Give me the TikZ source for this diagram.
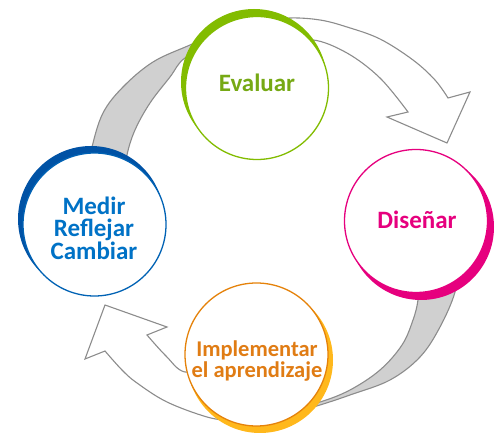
\documentclass[tikz,border=0pt]{standalone}
\usepackage{fontspec}
\setmainfont{Carlito}
\definecolor{cgreen}{HTML}{82BC00}
\definecolor{tgreen}{HTML}{76A914}
\definecolor{cmag}{HTML}{E6007E}
\definecolor{cblueD}{HTML}{0052A5}
\definecolor{cblue}{HTML}{0062B4}
\definecolor{tblue}{HTML}{0072C6}
\definecolor{corange}{HTML}{E5820A}
\definecolor{cyellow}{HTML}{FFB81C}
\definecolor{torange}{HTML}{E07C14}
\definecolor{bandgray}{HTML}{D0D0D0}
\definecolor{edgegray}{HTML}{8C8C8C}
\tikzset{
  band/.style={fill=bandgray, draw=edgegray, line width=1.1pt, line join=round},
  blockarrow/.style={fill=white, draw=edgegray, line width=1.1pt, line join=miter},
  ring/.style={circle, fill=white, line width=1.3pt, minimum size=143pt, inner sep=0pt},
  bigtxt/.style={font=\fontsize{25}{22.5}\selectfont\bfseries, align=center, inner sep=0pt},
  smalltxt/.style={font=\fontsize{22.5}{21}\selectfont\bfseries, align=center, inner sep=0pt}
}
\begin{document}
\begin{tikzpicture}[x=1pt,y=-1pt]
\useasboundingbox (0,0) rectangle (501,435);
% upper arrow: gray back part
\path[band] plot[smooth, tension=0.6] coordinates {(88,172) (92,147) (103,113) (123,87) (153,62) (190,45) (225,30)}
  -- plot[smooth, tension=0.6] coordinates {(215,46) (185,58) (170,77) (150,103) (135,130) (127,155) (125,178)} -- cycle;
% upper arrow: white front part with head
\path[blockarrow] plot[smooth, tension=0.6] coordinates {(265,22) (290,18) (320,20) (347,27) (380,39) (413,60) (435,80) (448,98)}
  -- (470,92) -- (447,143) -- (387,117) -- (408,112)
  -- plot[smooth, tension=0.6] coordinates {(408,112) (380,78) (347,53) (313,40) (290,48)} -- cycle;
% lower arrow: gray back part
\path[band] plot[smooth, tension=0.6] coordinates {(457,265) (455,292) (440,327) (420,357) (390,380) (350,395) (320,405) (295,412)}
  -- plot[smooth, tension=0.6] coordinates {(292,408) (320,402) (350,390) (380,370) (402,345) (413,320) (418,300) (419,278)} -- cycle;
% lower arrow: white front part with head
\path[blockarrow] plot[smooth, tension=0.6] coordinates {(215,366) (185,372) (166,356) (147,335)}
  -- (167,327) -- (105,305) -- (85,359) -- (105,351)
  -- plot[smooth, tension=0.6] coordinates {(105,351) (122,370) (137,383) (167,402) (207,417) (232,421)} -- cycle;
% crescents
\fill[cgreen] (254,82) circle[radius=73pt];
\fill[cmag] (421,227) circle[radius=73pt];
\fill[cblueD] (91,219) circle[radius=73pt];
\fill[cyellow] (260,360) circle[radius=73pt];
% circles
\node[ring, draw=cgreen] (eval) at (257,88) {};
\node[ring, draw=cmag] (dis) at (416,221) {};
\node[ring, draw=cblue] (med) at (94.5,224.5) {};
\node[ring, draw=corange] (imp) at (256.5,354.5) {};
% texts
\node[bigtxt, text=tgreen] (tev) at (257,83) {Evaluar};
\node[bigtxt, text=cmag] (tdi) at (417,220) {Diseñar};
\node[bigtxt, text=tblue] (tme) at (94,228) {Medir\\Reflejar\\Cambiar};
\node[smalltxt, text=torange] (tim) at (257,361) {Implementar\\el aprendizaje};
\end{tikzpicture}
\end{document}
